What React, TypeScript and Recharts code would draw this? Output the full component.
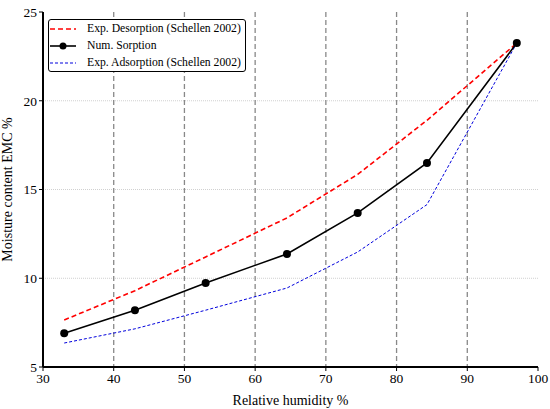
import React from 'react';
import {
  LineChart,
  Line,
  XAxis,
  YAxis,
  CartesianGrid,
} from 'recharts';

const rh = [33, 43, 53, 64.5, 74.5, 84.3, 97];
const desorption = [7.65, 9.3, 11.2, 13.4, 15.85, 18.9, 23.25];
const sorption = [6.9, 8.2, 9.73, 11.37, 13.68, 16.5, 23.25];
const adsorption = [6.35, 7.15, 8.2, 9.45, 11.48, 14.15, 23.25];

const xTicks = [30, 40, 50, 60, 70, 80, 90, 100];
const yTicks = [5, 10, 15, 20, 25];

const data = rh.map((x, i) => ({
  rh: x,
  desorption: desorption[i],
  sorption: sorption[i],
  adsorption: adsorption[i],
}));

const FONT = '"Liberation Serif", "DejaVu Serif", serif';

const rowStyle: React.CSSProperties = { display: 'flex', alignItems: 'center', height: 17 };

const LegendBox = () => (
  <div
    style={{
      position: 'absolute',
      left: 48,
      top: 19,
      width: 198,
      height: 53,
      boxSizing: 'border-box',
      border: '1.5px solid #000',
      borderRadius: 3,
      background: '#fff',
      padding: '0px 0px 0px 1px',
      fontFamily: FONT,
      fontSize: 11.7,
      color: '#000',
      whiteSpace: 'nowrap',
    }}
  >
    <div style={rowStyle}>
      <svg width={26} height={10} style={{ marginRight: 11 }}>
        <line x1={0} y1={5} x2={26} y2={5} stroke="#ff0000" strokeWidth={1.6} strokeDasharray="5 3" />
      </svg>
      Exp. Desorption (Schellen 2002)
    </div>
    <div style={rowStyle}>
      <svg width={26} height={10} style={{ marginRight: 11 }}>
        <line x1={0} y1={5} x2={26} y2={5} stroke="#000" strokeWidth={1.6} />
        <circle cx={13} cy={5} r={3.5} fill="#000" />
      </svg>
      Num. Sorption
    </div>
    <div style={rowStyle}>
      <svg width={26} height={10} style={{ marginRight: 11 }}>
        <line x1={0} y1={5} x2={26} y2={5} stroke="#0000dd" strokeWidth={1} strokeDasharray="3 2" />
      </svg>
      Exp. Adsorption (Schellen 2002)
    </div>
  </div>
);

export default function App() {
  return (
    <div style={{ position: 'absolute', left: 0, top: 0, width: 550, height: 409, background: '#fff' }}>
      <LineChart
        width={550}
        height={409}
        data={data}
        margin={{ top: 12, right: 12, bottom: 12, left: 13 }}
      >
        <CartesianGrid
          horizontal={true}
          vertical={false}
          stroke="#d0d0d0"
          strokeDasharray="1 1"
          horizontalValues={[10, 15, 20]}
        />
        <CartesianGrid
          horizontal={false}
          vertical={true}
          stroke="#888"
          strokeWidth={1.3}
          strokeDasharray="5 3"
          verticalValues={[40, 50, 60, 70, 80, 90]}
        />
        <XAxis
          type="number"
          dataKey="rh"
          domain={[30, 100]}
          ticks={xTicks}
          interval={0}
          height={30}
          axisLine={{ stroke: '#000', strokeWidth: 2 }}
          tickLine={{ stroke: '#000' }}
          tickSize={4}
          tick={{ fill: '#000', fontFamily: FONT, fontSize: 13.5 }}
          label={{
            value: 'Relative humidity %',
            position: 'insideBottom',
            offset: -8,
            fill: '#000',
            fontFamily: FONT,
            fontSize: 14,
          }}
        />
        <XAxis
          xAxisId="top"
          orientation="top"
          type="number"
          dataKey="rh"
          domain={[30, 100]}
          height={0}
          tick={false}
          tickLine={false}
          axisLine={{ stroke: '#000', strokeWidth: 2 }}
        />
        <YAxis
          type="number"
          domain={[5, 25]}
          ticks={yTicks}
          interval={0}
          width={30}
          axisLine={{ stroke: '#000', strokeWidth: 2 }}
          tickLine={{ stroke: '#000' }}
          tickSize={4}
          tick={{ fill: '#000', fontFamily: FONT, fontSize: 13.5 }}
          label={{
            value: 'Moisture content EMC %',
            angle: -90,
            position: 'insideLeft',
            offset: -6,
            style: { textAnchor: 'middle' },
            fill: '#000',
            fontFamily: FONT,
            fontSize: 14,
          }}
        />
        <YAxis
          yAxisId="right"
          orientation="right"
          type="number"
          domain={[5, 25]}
          width={0}
          tick={false}
          tickLine={false}
          axisLine={{ stroke: '#000', strokeWidth: 2 }}
        />
        <Line
          type="linear"
          dataKey="desorption"
          stroke="#ff0000"
          strokeWidth={1.6}
          strokeDasharray="5 3"
          dot={false}
          isAnimationActive={false}
        />
        <Line
          type="linear"
          dataKey="adsorption"
          stroke="#0000dd"
          strokeWidth={1}
          strokeDasharray="3 2"
          dot={false}
          isAnimationActive={false}
        />
        <Line
          type="linear"
          dataKey="sorption"
          stroke="#000"
          strokeWidth={1.6}
          dot={{ r: 4, fill: '#000', stroke: '#000', strokeWidth: 0 }}
          isAnimationActive={false}
        />
      </LineChart>
      <LegendBox />
    </div>
  );
}
